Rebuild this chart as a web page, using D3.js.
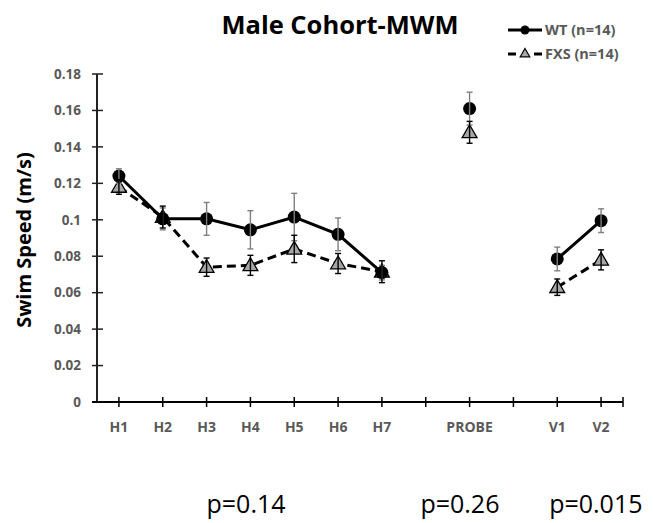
<!DOCTYPE html>
<html><head><meta charset="utf-8">
<script src="https://cdn.jsdelivr.net/npm/d3@7/dist/d3.min.js"></script>
<style>body{margin:0;background:#fff}</style>
</head><body>
<svg id="c" width="653" height="523"></svg>
<script>
const categories = ["H1","H2","H3","H4","H5","H6","H7","","PROBE","","V1","V2"];
const wtMean = [0.124,0.1005,0.1005,0.0945,0.1015,0.092,0.0710,null,0.161,null,0.0785,0.0995];
const wtErr  = [0.004,0.006,0.009,0.0105,0.013,0.009,0.004,null,0.009,null,0.0065,0.0065];
const fxsMean= [0.118,0.1015,0.0740,0.0750,0.0840,0.0760,0.0715,null,0.148,null,0.0630,0.0780];
const fxsErr = [0.004,0.006,0.005,0.0055,0.0075,0.0055,0.006,null,0.006,null,0.0045,0.0055];
const yTicks = [0,0.02,0.04,0.06,0.08,0.1,0.12,0.14,0.16,0.18];
const pLabels = [{text:"p=0.14", at:2.9},{text:"p=0.26", at:7.78},{text:"p=0.015", at:10.88}];
const title = "Male Cohort-MWM";
const yTitle = "Swim Speed (m/s)";
const legendItems = ["WT (n=14)","FXS (n=14)"];

const svg = d3.select("#c");
const x = d3.scaleBand().domain(d3.range(categories.length)).range([97,623]);
const cx = i => x(i) + x.bandwidth()/2;
const cxf = a => x.range()[0] + (a+0.5)*x.step();
const y = d3.scaleLinear().domain([0,0.18]).range([402,74]);
const tickCol = "#595959";
const font = "'Open Sans', sans-serif";

// title
svg.append("text").attr("x",340).attr("y",34).attr("text-anchor","middle")
  .attr("font-family",font).attr("font-weight","bold").attr("font-size",25.5).attr("fill","#000").text(title);

// y axis
const yAxis = svg.append("g");
yAxis.append("line").attr("x1",97).attr("x2",97).attr("y1",y(0.18)).attr("y2",y(0)).attr("stroke","#222").attr("stroke-width",2);
yTicks.forEach(t=>{
  yAxis.append("line").attr("x1",92).attr("x2",103).attr("y1",y(t)).attr("y2",y(t)).attr("stroke","#222").attr("stroke-width",1.5);
  yAxis.append("text").attr("x",81).attr("y",y(t)).attr("dy","0.35em").attr("text-anchor","end")
    .attr("font-family",font).attr("font-weight","bold").attr("font-size",13.5).attr("fill",tickCol).text(String(+t.toFixed(2)));
});
// x axis
const xAxis = svg.append("g");
xAxis.append("line").attr("x1",92).attr("x2",623).attr("y1",y(0)).attr("y2",y(0)).attr("stroke","#000").attr("stroke-width",2);
categories.forEach((c,i)=>{
  xAxis.append("line").attr("x1",cx(i)).attr("x2",cx(i)).attr("y1",y(0)-5).attr("y2",y(0)+5).attr("stroke","#000").attr("stroke-width",1.5);
  if(c) xAxis.append("text").attr("x",cx(i)).attr("y",432).attr("text-anchor","middle")
    .attr("font-family",font).attr("font-weight","bold").attr("font-size",14).attr("fill",tickCol).text(c);
});
xAxis.append("line").attr("x1",623).attr("x2",623).attr("y1",y(0)-5).attr("y2",y(0)+5).attr("stroke","#000").attr("stroke-width",1.5);

// y title
svg.append("text").attr("transform",`translate(31,240) rotate(-90)`).attr("text-anchor","middle")
  .attr("font-family",font).attr("font-weight","bold").attr("font-size",20).attr("fill","#000").text(yTitle);

// lines
const line = d3.line().defined(d=>d.v!=null).x(d=>cx(d.i)).y(d=>y(d.v));
const wtD = wtMean.map((v,i)=>({i,v,e:wtErr[i]}));
const fxD = fxsMean.map((v,i)=>({i,v,e:fxsErr[i]}));
svg.append("path").attr("d",line(fxD)).attr("fill","none").attr("stroke","#000").attr("stroke-width",3).attr("stroke-dasharray","9,5");
svg.append("path").attr("d",line(wtD)).attr("fill","none").attr("stroke","#000").attr("stroke-width",3);

const tri = d3.symbol().type(d3.symbolTriangle).size(95);
// markers
svg.selectAll(".fx").data(fxD.filter(d=>d.v!=null)).join("path")
  .attr("transform",d=>`translate(${cx(d.i)},${y(d.v)+1})`).attr("d",tri())
  .attr("fill","#a6a6a6").attr("stroke","#000").attr("stroke-width",1.3);
svg.selectAll(".wt").data(wtD.filter(d=>d.v!=null)).join("circle")
  .attr("cx",d=>cx(d.i)).attr("cy",d=>y(d.v)).attr("r",6.5).attr("fill","#000");

// error bars
function errBars(data,col){
  const g = svg.append("g").attr("stroke",col).attr("stroke-width",1.4);
  data.filter(d=>d.v!=null).forEach(d=>{
    const X=cx(d.i), t=y(d.v+d.e), b=y(d.v-d.e);
    g.append("line").attr("x1",X).attr("x2",X).attr("y1",t).attr("y2",b);
    g.append("line").attr("x1",X-3).attr("x2",X+3).attr("y1",t).attr("y2",t);
    g.append("line").attr("x1",X-3).attr("x2",X+3).attr("y1",b).attr("y2",b);
  });
}
errBars(wtD,"#7f7f7f");
errBars(fxD,"#000");

// legend
const lg = svg.append("g");
lg.append("line").attr("x1",508).attr("x2",542).attr("y1",30).attr("y2",30).attr("stroke","#000").attr("stroke-width",3);
lg.append("circle").attr("cx",525).attr("cy",30).attr("r",4.5).attr("fill","#000");
lg.append("line").attr("x1",508).attr("x2",542).attr("y1",54).attr("y2",54).attr("stroke","#000").attr("stroke-width",3).attr("stroke-dasharray","8,18");
lg.append("path").attr("transform","translate(525,54)").attr("d",d3.symbol().type(d3.symbolTriangle).size(40)()).attr("fill","#a6a6a6").attr("stroke","#000").attr("stroke-width",1.2);
legendItems.forEach((t,k)=>{
  lg.append("text").attr("x",545).attr("y",30+24*k).attr("dy","0.35em")
    .attr("font-family",font).attr("font-weight","bold").attr("font-size",14.5).attr("fill",tickCol).text(t);
});

// p values
pLabels.forEach(p=>{
  svg.append("text").attr("x",cxf(p.at)).attr("y",513).attr("text-anchor","middle")
    .attr("font-family",font).attr("font-size",25).attr("fill","#000").text(p.text);
});
</script>
</body></html>
